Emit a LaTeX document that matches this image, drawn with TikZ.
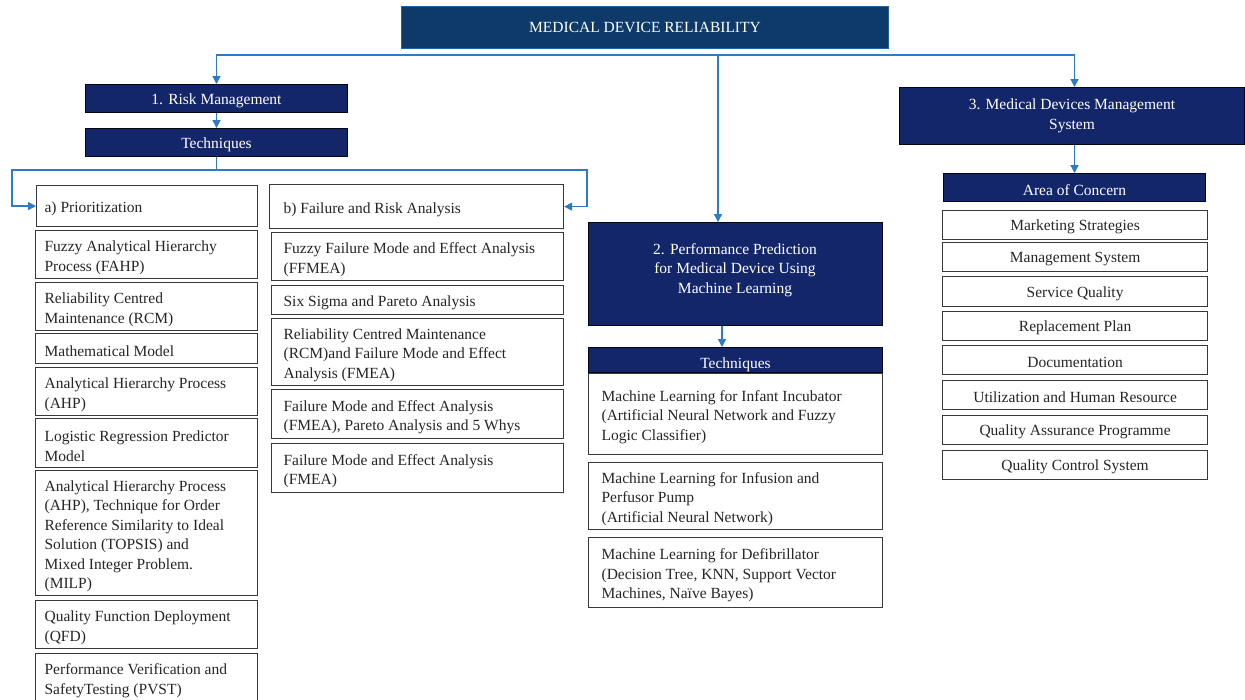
\documentclass[tikz,border=0pt]{standalone}
\usepackage{fontspec}
\setmainfont{Liberation Serif}
\usetikzlibrary{arrows.meta,calc}
\definecolor{navy}{HTML}{14266A}
\definecolor{titleblue}{HTML}{0D3A69}
\definecolor{conn}{HTML}{2B7BC6}
\definecolor{boxtext}{HTML}{262626}
\definecolor{boxline}{HTML}{383838}
\def\myshift{6pt}
\newcommand{\bx}[9]{% #1 name, #2 x1, #3 y1, #4 x2, #5 y2, #6 style, #7 inner xsep, #8 alignment, #9 text
  \pgfmathsetmacro{\mybw}{#4-#2}\pgfmathsetmacro{\mybh}{#5-#3}\pgfmathsetmacro{\mytw}{#4-#2-2*#7}%
  \node[#6, inner ysep=0pt, inner xsep=#7pt, minimum width=\mybw pt, minimum height=\mybh pt] (#1) at (#2,#3)
    {\parbox[c][\mybh pt][c]{\mytw pt}{#8\vspace*{\myshift}#9}};}
\newcommand{\dbox}[7]{% #1 name, #2 x1, #3 y1, #4 x2, #5 y2, #6 style, #7 text
  \pgfmathsetmacro{\mybw}{#4-#2}\pgfmathsetmacro{\mybh}{#5-#3}%
  \node[#6, minimum width=\mybw pt, minimum height=\mybh pt] (#1) at (#2,#3) {#7};}
\begin{document}
\begin{tikzpicture}[x=1pt,y=-1pt,
  every node/.style={font=\fontsize{15.5}{19.5}\selectfont},
  dark/.style={draw=black!85!navy, line width=1pt, fill=navy, text=white, inner sep=0pt, align=center, anchor=north west},
  titlebox/.style={draw=conn!60!titleblue, line width=1pt, fill=titleblue, text=white, inner sep=0pt, align=center, anchor=north west},
  light/.style={draw=boxline, line width=1.2pt, fill=white, text=boxtext, anchor=north west},
  arr/.style={draw=conn, line width=1.4pt, -{Triangle[length=8pt,width=8pt]}},
  ln/.style={draw=conn, line width=1.4pt}]
\useasboundingbox (0,0) rectangle (1245,699);
\fill[white] (0,0) rectangle (1245,699);
\clip (0,0) rectangle (1245,699);

% top
\dbox{title}{401}{6}{888}{48}{titlebox}{MEDICAL DEVICE RELIABILITY}

% column 1
{\def\myshift{4pt}
\bx{rm}{85}{84}{347}{112}{dark}{4}{\centering}{1. Risk Management}
\bx{techA}{85}{128}{347}{156}{dark}{4}{\centering}{Techniques}}
\bx{prio}{36}{185}{257}{226}{light}{8}{\raggedright}{a) Prioritization}
\bx{fra}{269}{184}{563}{228}{light}{14}{\raggedright}{b) Failure and Risk Analysis}

\bx{la}{35}{230}{257}{278}{light}{9}{\raggedright}{Fuzzy Analytical Hierarchy\\Process (FAHP)}
\bx{lb}{35}{282}{257}{330}{light}{9}{\raggedright}{Reliability Centred\\Maintenance (RCM)}
\bx{lc}{35}{333}{257}{363}{light}{9}{\raggedright}{Mathematical Model}
\bx{ld}{35}{367}{257}{415}{light}{9}{\raggedright}{Analytical Hierarchy Process\\(AHP)}
\bx{le}{35}{418}{257}{467}{light}{9}{\raggedright}{Logistic Regression Predictor\\Model}
\bx{lf}{35}{470}{257}{595}{light}{9}{\raggedright}{Analytical Hierarchy Process\\(AHP), Technique for Order\\Reference Similarity to Ideal\\Solution (TOPSIS) and\\Mixed Integer Problem.\\(MILP)}
\bx{lg}{35}{600}{257}{648}{light}{9}{\raggedright}{Quality Function Deployment\\(QFD)}
\bx{lh}{35}{653}{257}{701}{light}{9}{\raggedright}{Performance Verification and\\SafetyTesting (PVST)}

\bx{ma}{271}{232}{563}{280}{light}{12}{\raggedright}{Fuzzy Failure Mode and Effect Analysis\\(FFMEA)}
\bx{mb}{271}{285}{563}{314}{light}{12}{\raggedright}{Six Sigma and Pareto Analysis}
\bx{mc}{271}{318}{563}{385}{light}{12}{\raggedright}{Reliability Centred Maintenance\\(RCM)and Failure Mode and Effect\\Analysis (FMEA)}
\bx{md}{271}{389}{563}{438}{light}{12}{\raggedright}{Failure Mode and Effect Analysis\\(FMEA), Pareto Analysis and 5 Whys}
\bx{me}{271}{443}{563}{492}{light}{12}{\raggedright}{Failure Mode and Effect Analysis\\(FMEA)}

% column 2
\dbox{pp}{588}{222}{882}{325}{dark}{}
\node[text=white, align=center] (pplabel) at (735,270) {2. Performance Prediction\\for Medical Device Using\\Machine Learning};
{\def\myshift{10pt}
\bx{techB}{588}{347}{882}{372}{dark}{4}{\centering}{Techniques}}
\bx{pa}{588}{373}{882}{454}{light}{13}{\raggedright}{Machine Learning for Infant Incubator\\(Artificial Neural Network and Fuzzy\\Logic Classifier)}
\bx{pb}{588}{462}{882}{529}{light}{13}{\raggedright}{Machine Learning for Infusion and\\Perfusor Pump\\(Artificial Neural Network)}
\bx{pc}{588}{537}{882}{607}{light}{13}{\raggedright}{Machine Learning for Defibrillator\\(Decision Tree, KNN, Support Vector\\Machines, Na\"ive Bayes)}

% column 3
\dbox{mdm}{899}{87}{1244}{144}{dark}{3. Medical Devices Management\\System}
\bx{aoc}{943}{173}{1205}{201}{dark}{4}{\centering}{Area of Concern}
{\def\myshift{4pt}
\bx{ra}{942}{210}{1207}{239}{light}{6}{\centering}{Marketing Strategies}
\bx{rb}{942}{242}{1207}{271}{light}{6}{\centering}{Management System}
\bx{rc}{942}{276}{1207}{306}{light}{6}{\centering}{Service Quality}
\bx{rd}{942}{311}{1207}{340}{light}{6}{\centering}{Replacement Plan}
\bx{re}{942}{345}{1207}{374}{light}{6}{\centering}{Documentation}
\bx{rf}{942}{380}{1207}{409}{light}{6}{\centering}{Utilization and Human Resource}
\bx{rg}{942}{415}{1207}{444}{light}{6}{\centering}{Quality Assurance Programme}
\bx{rh}{942}{450}{1207}{479}{light}{6}{\centering}{Quality Control System}}

% connectors
\coordinate (hub) at (718,55);
\draw[arr] (hub) -| (rm.north);
\draw[arr] (hub) -- (hub |- pp.north);
\draw[arr] (hub) -| (mdm.north -| aoc.north);
\draw[arr] (rm.south) -- (techA.north);
\coordinate (lbus) at (12,170);
\coordinate (rbus) at (587,170);
\draw[arr] (techA.south) |- (lbus) |- (prio.west);
\draw[arr] (techA.south) |- (rbus) |- (fra.east);
\draw[arr] ([xshift=4pt]pp.south -| hub) -- ([xshift=4pt]techB.north -| hub);
\draw[arr] (mdm.south -| aoc.north) -- (aoc.north);
\end{tikzpicture}
\end{document}
